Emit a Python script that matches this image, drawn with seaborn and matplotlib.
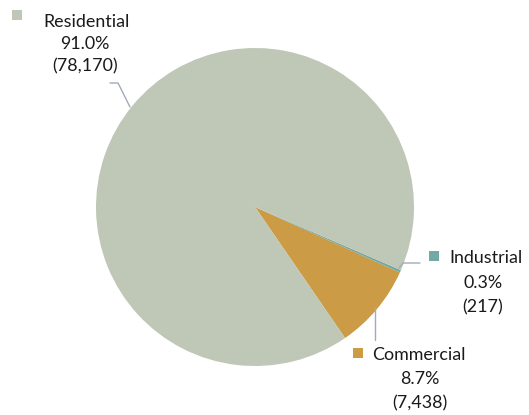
import matplotlib
matplotlib.use("Agg")
import matplotlib.pyplot as plt
import seaborn as sns
from matplotlib.patches import Rectangle

categories = ["Commercial", "Industrial", "Residential"]
values = [7438, 217, 78170]
pct_labels = ["8.7%", "0.3%", "91.0%"]
count_labels = ["(7,438)", "(217)", "(78,170)"]
colors = ["#cb9b46", "#74a8a4", "#bfc8b6"]

sns.set_theme(style="white")
plt.rcParams["font.family"] = ["Lato", "DejaVu Sans"]

W, H = 529, 415
fig = plt.figure(figsize=(W / 100, H / 100), dpi=100)
ax = fig.add_axes([0, 0, 1, 1])

def Y(y):
    return H - y

ax.pie(values, colors=colors, startangle=-55.5, counterclock=True,
       center=(255, Y(207)), radius=159,
       wedgeprops=dict(linewidth=0))
ax.set_xlim(0, W)
ax.set_ylim(0, H)
ax.set_aspect("equal")
ax.axis("off")

line_col = "#a3abb9"
# leader lines
ax.plot([110, 118, 130], [Y(83), Y(83), Y(107)], color=line_col, lw=1)
ax.plot([399, 403, 420], [Y(268), Y(263), Y(263)], color=line_col, lw=1)
ax.plot([375, 375], [Y(307), Y(340)], color=line_col, lw=1)

fs = 12.9
tc = "#1a1a1a"
specs = {
    "Residential": dict(box=(12, 10), name_x=43, ys=(22, 44, 66), cx=85),
    "Industrial": dict(box=(429, 251), name_x=449, ys=(258, 283, 307), cx=483),
    "Commercial": dict(box=(353, 348), name_x=372, ys=(355, 379, 403), cx=420),
}
for i, cat in enumerate(categories):
    s = specs[cat]
    bx, by = s["box"]
    ax.add_patch(Rectangle((bx, Y(by + 10)), 10, 10, color=colors[i], lw=0))
    ax.text(s["name_x"], Y(s["ys"][0]), cat, ha="left", va="center", fontsize=fs, color=tc)
    ax.text(s["cx"], Y(s["ys"][1]), pct_labels[i], ha="center", va="center", fontsize=fs, color=tc)
    ax.text(s["cx"], Y(s["ys"][2]), count_labels[i], ha="center", va="center", fontsize=fs, color=tc)

fig.savefig("out.png", dpi=100)
